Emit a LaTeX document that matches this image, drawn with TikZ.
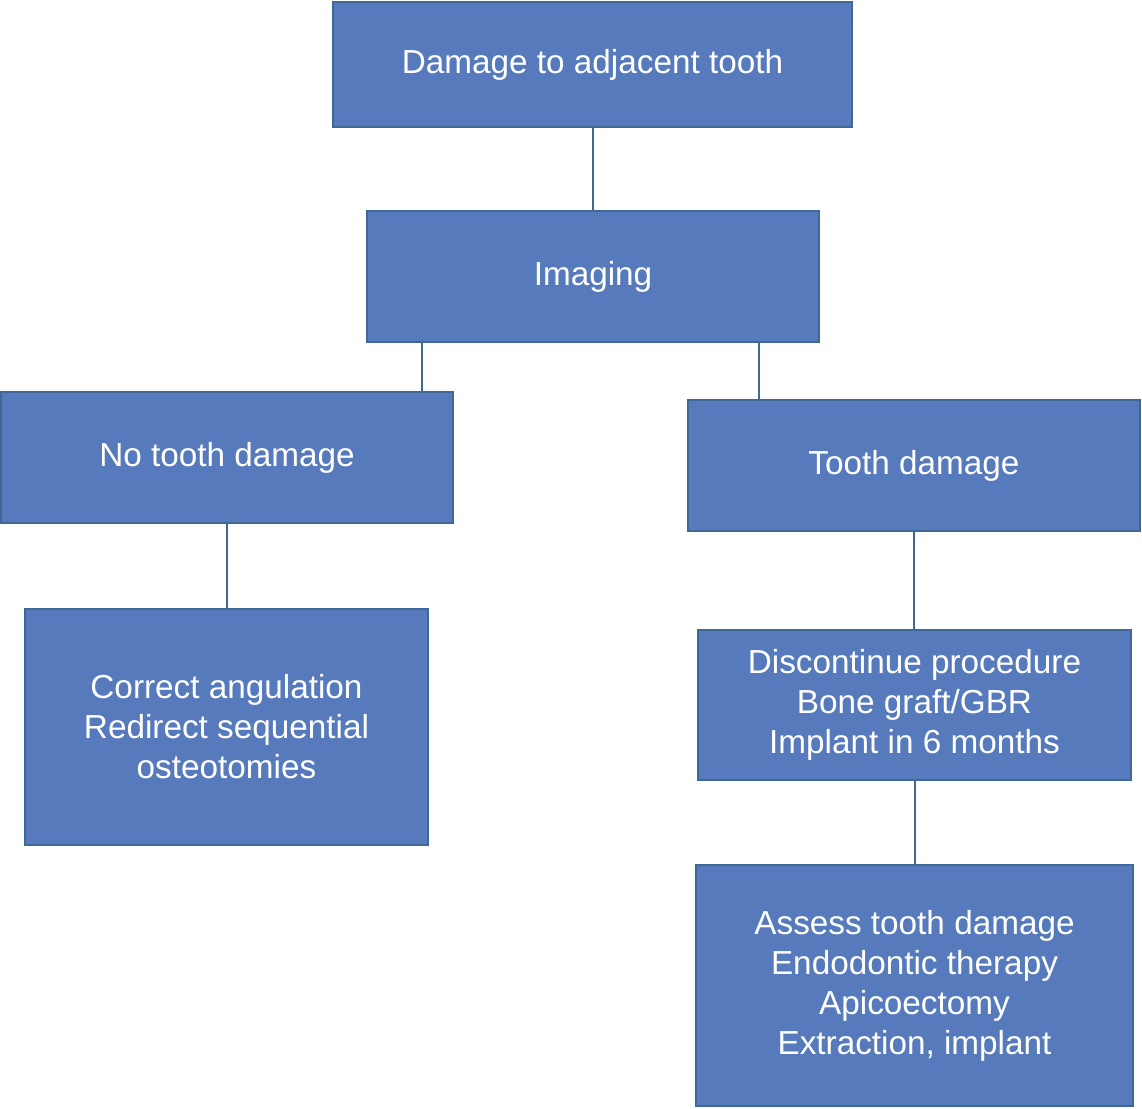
\documentclass[tikz,border=0pt]{standalone}
\usepackage{fontspec}
\setmainfont{Liberation Sans}
\definecolor{boxfill}{RGB}{86,122,188}
\definecolor{boxline}{RGB}{64,104,150}
\begin{document}
\begin{tikzpicture}[x=1pt,y=-1pt,
  fbox/.style={draw=boxline, line width=2pt, fill=boxfill, text=white, align=center,
    font=\fontsize{33.3}{40}\selectfont, inner sep=0pt},
  conn/.style={draw=boxline, line width=2pt}]
\useasboundingbox (0,0) rectangle (1142,1108);
\node[fbox, minimum width=519pt, minimum height=125pt] (top) at (592.5,64.5) {Damage to adjacent tooth};
\node[fbox, minimum width=452pt, minimum height=131pt] (img) at (593,276.5) {Imaging};
\node[fbox, minimum width=452pt, minimum height=131pt] (ntd) at (227,457.5) {No tooth damage};
\node[fbox, minimum width=452pt, minimum height=131pt] (td) at (914,465.5) {Tooth damage};
\node[fbox, minimum width=403pt, minimum height=236pt] (ca) at (226.5,727) {Correct angulation\\Redirect sequential\\osteotomies};
\node[fbox, minimum width=433pt, minimum height=150pt] (dp) at (914.5,705) {Discontinue procedure\\Bone graft/GBR\\Implant in 6 months};
\node[fbox, minimum width=437pt, minimum height=241pt] (as) at (914.5,985.5) {Assess tooth damage\\Endodontic therapy\\Apicoectomy\\Extraction, implant};
\draw[conn] (top.south) -- (top.south |- img.north);
\draw[conn] ([xshift=56pt]img.south west) -- ([xshift=56pt]img.south west |- ntd.north);
\draw[conn] ([xshift=-61pt]img.south east) -- ([xshift=-61pt]img.south east |- td.north);
\draw[conn] (ntd.south) -- (ntd.south |- ca.north);
\draw[conn] (td.south) -- (td.south |- dp.north);
\draw[conn] (dp.south) -- (dp.south |- as.north);
\end{tikzpicture}
\end{document}
